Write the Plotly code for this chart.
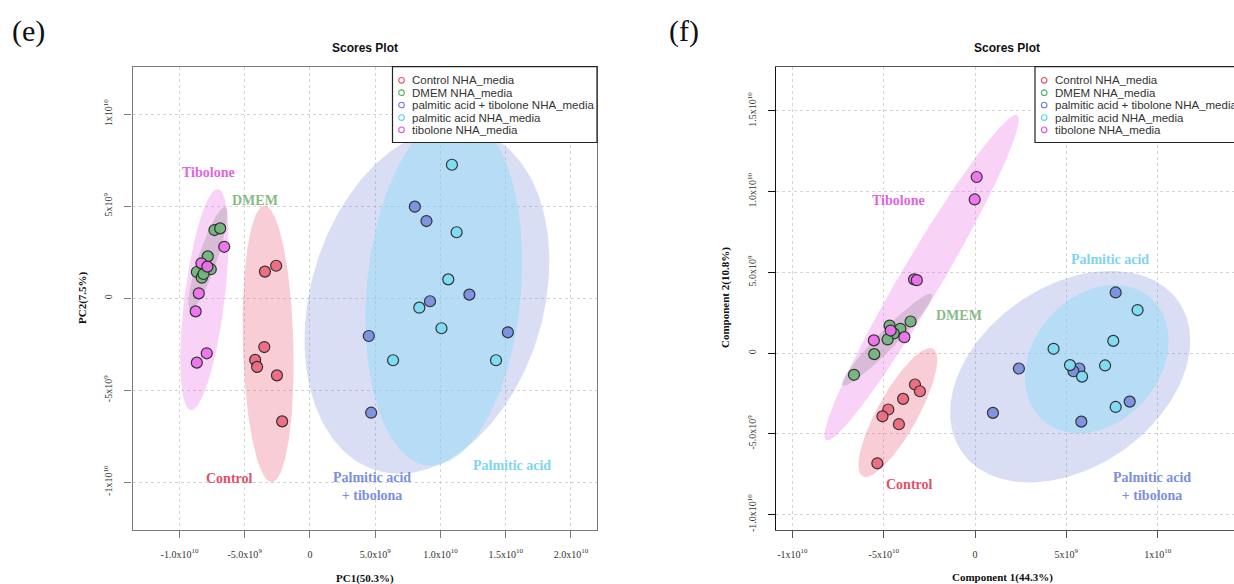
import numpy as np
import plotly.graph_objects as go

# ---------------- data (score values in units of 1e9) ----------------
SCALE = 1e9
groups = ["Control NHA_media", "DMEM NHA_media", "palmitic acid + tibolone NHA_media",
          "palmitic acid NHA_media", "tibolone NHA_media"]

# Panel (e) PCA scores
e_control_x = [-3.45, -2.59, -3.50, -4.20, -4.05, -2.53, -2.13]
e_control_y = [1.45, 1.77, -2.65, -3.35, -3.73, -4.19, -6.69]
e_dmem_x = [-7.32, -6.88, -7.83, -7.60, -8.67, -8.29, -8.16]
e_dmem_y = [3.71, 3.80, 2.28, 1.58, 1.43, 1.12, 1.32]
e_pat_x = [8.04, 8.93, 12.22, 9.20, 15.17, 4.51, 4.69]
e_pat_y = [4.98, 4.20, 0.20, -0.16, -1.85, -2.05, -6.22]
e_pa_x = [10.88, 11.24, 10.60, 8.38, 10.08, 6.37, 14.26]
e_pa_y = [7.26, 3.59, 1.03, -0.51, -1.63, -3.37, -3.37]
e_tib_x = [-6.57, -8.32, -7.86, -8.52, -8.76, -7.91, -8.67]
e_tib_y = [2.80, 1.90, 1.72, 0.27, -0.71, -2.99, -3.50]

# Panel (f) PLS-DA scores
f_control_x = [-3.29, -3.02, -3.94, -4.75, -5.07, -4.17, -5.35]
f_control_y = [-1.94, -2.36, -2.83, -3.49, -3.91, -4.40, -6.82]
f_dmem_x = [-3.53, -4.68, -4.09, -4.45, -4.79, -5.52, -6.63]
f_dmem_y = [1.96, 1.71, 1.51, 1.22, 0.85, -0.06, -1.34]
f_pat_x = [7.70, 2.40, 5.71, 5.39, 0.98, 8.47, 5.82]
f_pat_y = [3.76, -0.95, -0.95, -1.12, -3.70, -3.00, -4.24]
f_pa_x = [8.90, 7.57, 4.30, 5.20, 7.12, 5.86, 7.70]
f_pa_y = [2.67, 0.76, 0.27, -0.74, -0.76, -1.45, -3.33]
f_tib_x = [0.09, -0.02, -3.34, -3.19, -4.62, -3.87, -5.54]
f_tib_y = [10.91, 9.52, 4.57, 4.52, 1.40, 0.99, 0.79]

e_xticks = [-1e10, -5e9, 0, 5e9, 1e10, 1.5e10, 2e10]
e_xticktext = ["-1.0x10<sup>10</sup>", "-5.0x10<sup>9</sup>", "0", "5.0x10<sup>9</sup>",
               "1.0x10<sup>10</sup>", "1.5x10<sup>10</sup>", "2.0x10<sup>10</sup>"]
e_yticks = [-1e10, -5e9, 0, 5e9, 1e10]
e_yticktext = ["-1x10<sup>10</sup>", "-5x10<sup>9</sup>", "0", "5x10<sup>9</sup>", "1x10<sup>10</sup>"]
f_xticks = [-1e10, -5e9, 0, 5e9, 1e10, 1.5e10]
f_xticktext = ["-1x10<sup>10</sup>", "-5x10<sup>10</sup>", "0", "5x10<sup>9</sup>", "1x10<sup>10</sup>", ""]
f_yticks = [-1e10, -5e9, 0, 5e9, 1e10, 1.5e10]
f_yticktext = ["-1.0x10<sup>10</sup>", "-5.0x10<sup>9</sup>", "0", "5.0x10<sup>9</sup>",
               "1.0x10<sup>10</sup>", "1.5x10<sup>10</sup>"]

# ---------------- styles ----------------
W, H = 1234, 584
point_cols = ["#EE6B80", "#72B57E", "#7C90E0", "#7EDCF2", "#EE72EE"]
fill_cols = ["rgba(236,90,115,0.30)", "rgba(110,150,110,0.32)", "rgba(120,135,220,0.28)",
             "rgba(150,218,248,0.50)", "rgba(235,110,230,0.30)"]
legend_cols = ["#E0506A", "#50B060", "#6A7ADA", "#55D2F0", "#E050E0"]
label_cols = ["#E0506A", "#88BB88", "#7B8FE0", "#7FD4F0", "#DD66DD"]

CHI = np.sqrt(-2 * np.log(0.05))  # sqrt(qchisq(0.95, 2))


def ellipse(xs, ys, n=240):
    pts = np.vstack([np.asarray(xs), np.asarray(ys)]) * SCALE
    mu = pts.mean(axis=1)
    cov = np.cov(pts)
    vals, vecs = np.linalg.eigh(cov)
    t = np.linspace(0, 2 * np.pi, n)
    circ = np.vstack([np.cos(t), np.sin(t)])
    e = vecs @ (np.sqrt(vals)[:, None] * circ) * CHI + mu[:, None]
    return e[0], e[1]


def PX(x):
    return x / W


def PY(y):
    return 1 - y / H


fig = go.Figure()

panels = [
    ("x", "y", [(e_control_x, e_control_y), (e_dmem_x, e_dmem_y), (e_pat_x, e_pat_y),
                (e_pa_x, e_pa_y), (e_tib_x, e_tib_y)]),
    ("x2", "y2", [(f_control_x, f_control_y), (f_dmem_x, f_dmem_y), (f_pat_x, f_pat_y),
                  (f_pa_x, f_pa_y), (f_tib_x, f_tib_y)]),
]

for xa, ya, data in panels:
    for i, (xs, ys) in enumerate(data):
        ex, ey = ellipse(xs, ys)
        fig.add_trace(go.Scatter(x=ex, y=ey, mode="lines", fill="toself",
                                 fillcolor=fill_cols[i], line=dict(width=0),
                                 hoverinfo="skip", showlegend=False, xaxis=xa, yaxis=ya))
    for i, (xs, ys) in enumerate(data):
        fig.add_trace(go.Scatter(x=np.asarray(xs) * SCALE, y=np.asarray(ys) * SCALE,
                                 mode="markers", name=groups[i], showlegend=False,
                                 marker=dict(size=11, color=point_cols[i], opacity=0.95,
                                             line=dict(color="#2a2a2a", width=1.2)),
                                 xaxis=xa, yaxis=ya))

ydom = [PY(529.5), PY(66.7)]
tickfont = dict(family="Liberation Serif", size=10, color="#333333")
common = dict(showgrid=True, gridcolor="#d4d4d4", griddash="dot", gridwidth=1,
              zeroline=False, ticks="outside", ticklen=7, tickfont=tickfont)

fig.update_layout(
    width=W, height=H, margin=dict(l=0, r=0, t=0, b=0, autoexpand=False),
    paper_bgcolor="white", plot_bgcolor="white", showlegend=False,
    xaxis=dict(domain=[PX(132.5), PX(597)], range=[-1.36e10, 2.2e10], anchor="y",
               tickvals=e_xticks, ticktext=e_xticktext, showline=True, mirror=True,
               linecolor="#7a7a7a", linewidth=1.3, tickcolor="#7a7a7a",
               ticklabelstandoff=8, **common),
    yaxis=dict(domain=ydom, range=[-1.257e10, 1.259e10], anchor="x",
               tickvals=e_yticks, ticktext=e_yticktext, showline=True, mirror=True,
               linecolor="#7a7a7a", linewidth=1.3, tickcolor="#7a7a7a", tickangle=-90,
               ticklabelstandoff=8, **common),
    xaxis2=dict(domain=[PX(776), 1.0], range=[-1.09e10, 1.418e10], anchor="y2",
                tickvals=f_xticks, ticktext=f_xticktext, showline=True, mirror=True,
                linecolor="#555555", linewidth=1.3, tickcolor="#555555",
                ticklabelstandoff=8, **common),
    yaxis2=dict(domain=ydom, range=[-1.092e10, 1.774e10], anchor="x2",
                tickvals=f_yticks, ticktext=f_yticktext, showline=True, mirror=False,
                linecolor="#111111", linewidth=1.3, tickcolor="#111111", tickangle=-90,
                ticklabelstandoff=8, **common),
)

annotations = []
shapes = []


def ptext(x, y, text, size, color="#111111", family="Liberation Sans", bold=False, angle=0,
          xanchor="center"):
    t = f"<b>{text}</b>" if bold else text
    annotations.append(dict(x=PX(x), y=PY(y), xref="paper", yref="paper", text=t,
                            showarrow=False, xanchor=xanchor, yanchor="middle", textangle=angle,
                            font=dict(family=family, size=size, color=color)))


# panel letters and titles
ptext(28, 31, "(e)", 30, family="Liberation Serif")
ptext(684, 31, "(f)", 30, family="Liberation Serif")
ptext(364.5, 48.5, "Scores Plot", 12, bold=True)
ptext(1007, 48.5, "Scores Plot", 12, bold=True)

# axis titles
ptext(365, 578, "PC1(50.3%)", 11, family="Liberation Serif", bold=True)
ptext(82, 298, "PC2(7.5%)", 11, family="Liberation Serif", bold=True, angle=-90)
ptext(1002, 577, "Component 1(44.3%)", 11, family="Liberation Serif", bold=True)
ptext(725, 298, "Component 2(10.8%)", 11, family="Liberation Serif", bold=True, angle=-90)

# group labels (data coordinates)
lab_font = "Liberation Serif"
e_labels = [("Tibolone", -7.76, 6.85, 4), ("DMEM", -4.2, 5.34, 1), ("Control", -6.15, -9.78, 0),
            ("Palmitic acid<br>+ tibolona", 4.78, -10.24, 2), ("Palmitic acid", 15.49, -9.08, 3)]
f_labels = [("Tibolone", -4.17, 9.48, 4), ("Palmitic acid", 7.40, 5.83, 3), ("DMEM", -0.9, 2.36, 1),
            ("Control", -3.61, -8.12, 0), ("Palmitic acid<br>+ tibolona", 9.69, -8.28, 2)]
for labs, xr, yr in [(e_labels, "x", "y"), (f_labels, "x2", "y2")]:
    for text, lx, ly, gi in labs:
        annotations.append(dict(x=lx * SCALE, y=ly * SCALE, xref=xr, yref=yr,
                                text=f"<b>{text}</b>", showarrow=False,
                                font=dict(family=lab_font, size=14, color=label_cols[gi])))

# legends (drawn as boxes)
leg_rows = [80.3, 92.7, 105.0, 117.6, 129.8]
for (bx0, bx1, cx, tx) in [(392.5, 597, 401.5, 409.5), (1035, 1252, 1044.2, 1053)]:
    shapes.append(dict(type="rect", xref="paper", yref="paper", x0=PX(bx0), x1=PX(bx1),
                       y0=PY(142.5), y1=PY(66.7), fillcolor="white",
                       line=dict(color="#222222", width=1.2), layer="above"))
    for gi, ry in enumerate(leg_rows):
        r = 2.8
        shapes.append(dict(type="circle", xref="paper", yref="paper",
                           x0=PX(cx - r), x1=PX(cx + r), y0=PY(ry + r), y1=PY(ry - r),
                           line=dict(color=legend_cols[gi], width=1.1), layer="above"))
        ptext(tx, ry, groups[gi], 11.5, color="#333333", xanchor="left")

fig.update_layout(annotations=annotations, shapes=shapes)
fig.write_html("out.html", config={"displayModeBar": False},
               post_script="document.body.style.margin='0px';document.body.style.overflow='hidden';")
